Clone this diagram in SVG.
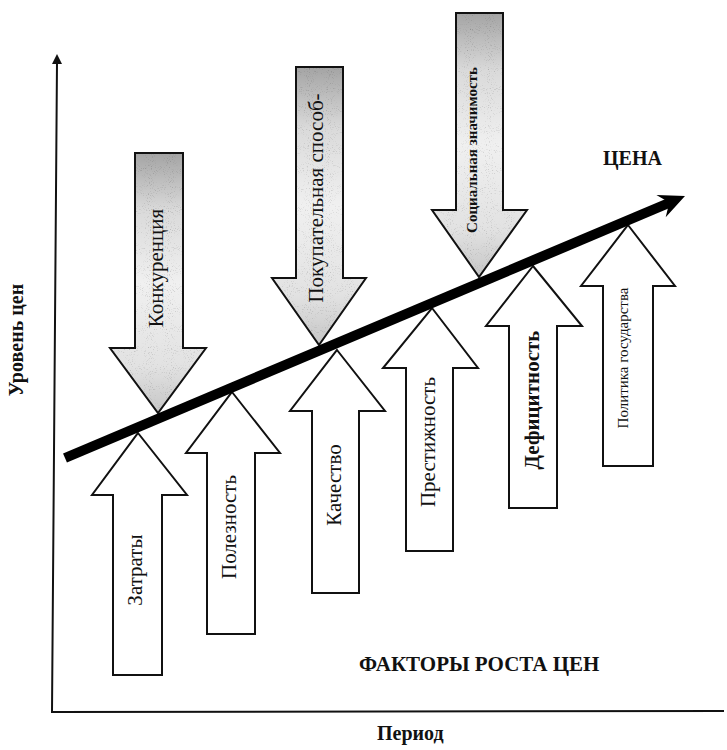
<svg xmlns="http://www.w3.org/2000/svg" width="727" height="750" viewBox="0 0 727 750">
  <style>
    .up { fill: #ffffff; stroke: #111111; stroke-width: 2; stroke-linejoin: miter; }
    .down { fill: url(#shade); stroke: none; }
    .down-edge { fill: none; stroke: #111111; stroke-width: 2; stroke-linejoin: miter; }
    .lbl { font-family: "Liberation Serif", "Times New Roman", serif; font-size: 21px; fill: #111111; text-anchor: middle; }
    .lbl-b { font-weight: bold; }
    .small { font-size: 15px; }
    .title { font-family: "Liberation Serif", "Times New Roman", serif; font-weight: bold; fill: #111111; }
    .axis { fill: none; stroke: #111111; stroke-width: 2; }
  </style>
  <defs>
    <linearGradient id="shade" x1="0" y1="0" x2="0" y2="1">
      <stop offset="0" stop-color="#a4a4a4"/>
      <stop offset="0.22" stop-color="#dadada"/>
      <stop offset="0.5" stop-color="#f0f0f0"/>
      <stop offset="0.82" stop-color="#e2e2e2"/>
      <stop offset="1" stop-color="#c6c6c6"/>
    </linearGradient>
    <filter id="grain" x="0" y="0" width="100%" height="100%">
      <feTurbulence type="fractalNoise" baseFrequency="0.95" numOctaves="1" seed="7" result="noise"/>
      <feColorMatrix in="noise" type="matrix" values="0 0 0 0 0  0 0 0 0 0  0 0 0 0 0  1.5 0 0 0 -0.88" result="dots"/>
      <feComposite in="dots" in2="SourceAlpha" operator="in" result="clipped"/>
      <feMerge>
        <feMergeNode in="SourceGraphic"/>
        <feMergeNode in="clipped"/>
      </feMerge>
    </filter>
  </defs>

  <rect width="727" height="750" fill="#ffffff"/>

  <!-- axes -->
  <g id="axes">
    <path class="axis" d="M57,62 L52,712 L724,711"/>
    <polygon points="57,54 62,64 52,64" fill="#111111"/>
    <text class="title" font-size="20" text-anchor="middle" transform="translate(16,340) rotate(-90)" dy="0.35em">Уровень цен</text>
    <text class="title" font-size="20" x="377" y="740">Период</text>
  </g>

  <!-- upward factor arrows -->
  <g id="zatraty">
    <polygon class="up" points="138,433 187,495 162,495 162,675 113,675 113,495 92,495"/>
    <text class="lbl" transform="translate(135,570) rotate(-90)" dy="0.35em">Затраты</text>
  </g>
  <g id="poleznost">
    <polygon class="up" points="232,392 280,453 255,453 255,634 207,634 207,453 186,453"/>
    <text class="lbl" transform="translate(229,527) rotate(-90)" dy="0.35em">Полезность</text>
  </g>
  <g id="kachestvo">
    <polygon class="up" points="337,350 385,411 359,411 359,593 312,593 312,411 290,411"/>
    <text class="lbl" transform="translate(334,485) rotate(-90)" dy="0.35em">Качество</text>
  </g>
  <g id="prestizhnost">
    <polygon class="up" points="432,308 478,368 453,368 453,551 406,551 406,368 383,368"/>
    <text class="lbl" transform="translate(428,442) rotate(-90)" dy="0.35em">Престижность</text>
  </g>
  <g id="deficitnost">
    <polygon class="up" points="533,266 582,326 557,326 557,508 509,508 509,326 486,326"/>
    <text class="lbl lbl-b" transform="translate(532,400) rotate(-90)" dy="0.35em">Дефицитность</text>
  </g>
  <g id="politika">
    <polygon class="up" points="628,225 675,286 653,286 653,466 603,466 603,286 581,286"/>
    <text class="lbl small" transform="translate(623,358) rotate(-90)" dy="0.35em">Политика государства</text>
  </g>

  <!-- downward factor arrows -->
  <g id="konkurenciya">
    <polygon class="down" filter="url(#grain)" points="135,153 183,153 183,348 206,348 158,413 110,348 135,348"/>
    <polygon class="down-edge" points="135,153 183,153 183,348 206,348 158,413 110,348 135,348"/>
    <text class="lbl" transform="translate(156,268) rotate(-90)" dy="0.35em">Конкуренция</text>
  </g>
  <g id="pokupatelnaya">
    <polygon class="down" filter="url(#grain)" points="296,67 343,67 343,278 366,278 319,345 272,278 296,278"/>
    <polygon class="down-edge" points="296,67 343,67 343,278 366,278 319,345 272,278 296,278"/>
    <text class="lbl" transform="translate(316,198) rotate(-90)" dy="0.35em">Покупательная способ-</text>
  </g>
  <g id="socialnaya">
    <polygon class="down" filter="url(#grain)" points="456,13 503,13 503,210 527,210 479,277 432,210 456,210"/>
    <polygon class="down-edge" points="456,13 503,13 503,210 527,210 479,277 432,210 456,210"/>
    <text class="lbl lbl-b small" transform="translate(472,150) rotate(-90)" dy="0.35em">Социальная значимость</text>
  </g>

  <!-- price trend -->
  <g id="connectors">
    <line x1="65" y1="458" x2="670" y2="202.5" stroke="#000000" stroke-width="10"/>
    <polygon points="685,196 656.4,195.1 669.3,202.6 665.7,217.2" fill="#000000"/>
  </g>

  <!-- captions -->
  <g id="labels">
    <text class="title" font-size="20" x="603" y="165">ЦЕНА</text>
    <text class="title" font-size="21" x="359" y="671">ФАКТОРЫ РОСТА ЦЕН</text>
  </g>
</svg>
